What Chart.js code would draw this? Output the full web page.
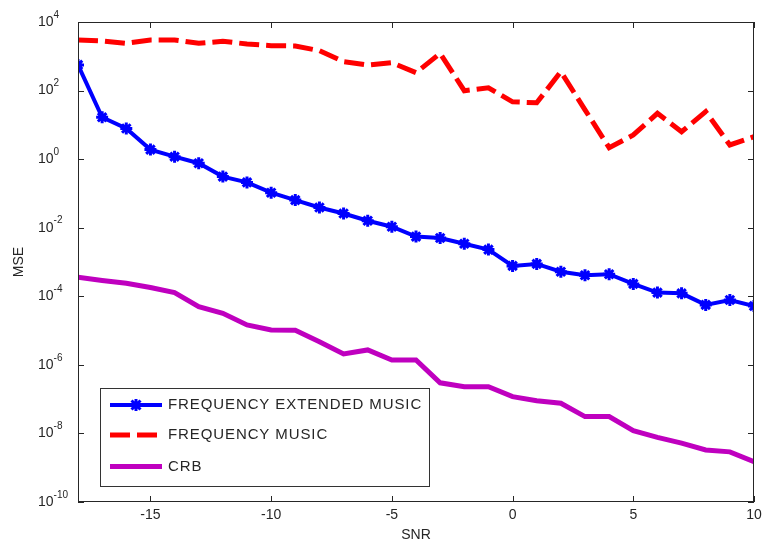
<!DOCTYPE html>
<html>
<head>
<meta charset="utf-8">
<script src="https://cdn.jsdelivr.net/npm/chart.js@4"></script>
<style>
  body { margin: 0; background: #fff; }
  canvas { display: block; }
</style>
</head>
<body>
<canvas id="grafico" width="763" height="545"></canvas>
<script>
// Dados
const snr = [-18, -17, -16, -15, -14, -13, -12, -11, -10, -9, -8, -7, -6, -5, -4,
             -3, -2, -1, 0, 1, 2, 3, 4, 5, 6, 7, 8, 9, 10];

const extendedMusic = [560, 16.6, 7.8, 1.9, 1.18, 0.76, 0.31, 0.21, 0.105, 0.064,
                       0.039, 0.026, 0.016, 0.0107, 0.0055, 0.0050, 0.0034, 0.0023,
                       7.7e-4, 8.8e-4, 5.2e-4, 4.1e-4, 4.4e-4, 2.3e-4, 1.28e-4,
                       1.22e-4, 5.6e-5, 7.8e-5, 5.2e-5];

const freqMusic = [2990, 2790, 2390, 2990, 2990, 2390, 2740, 2280, 2040, 2000,
                   1460, 695, 557, 650, 332, 1220, 99, 121, 47, 44, 356, 27.5,
                   2.16, 5.07, 21.7, 6.3, 24.2, 2.59, 4.52];

const crb = [3.6e-4, 2.9e-4, 2.4e-4, 1.8e-4, 1.28e-4, 5.0e-5, 3.2e-5, 1.46e-5,
             1.04e-5, 1.02e-5, 4.75e-6, 2.08e-6, 2.72e-6, 1.39e-6, 1.39e-6, 3.0e-7,
             2.3e-7, 2.3e-7, 1.18e-7, 9.0e-8, 7.6e-8, 3.1e-8, 3.1e-8, 1.2e-8,
             7.7e-9, 5.2e-9, 3.3e-9, 2.9e-9, 1.5e-9];

const xTicks = [-15, -10, -5, 0, 5, 10];
const yTickExps = [4, 2, 0, -2, -4, -6, -8, -10];

const corTexto = '#262626';
const fonte = '"Liberation Sans", Arial, sans-serif';

function pontos(valores) {
    return snr.map((x, i) => ({ x: x, y: valores[i] }));
}

// Desenha a estrela (marcador "*") no estilo do MATLAB
function desenharEstrela(ctx, x, y, r) {
    ctx.beginPath();
    ctx.moveTo(x - r, y); ctx.lineTo(x + r, y);
    ctx.moveTo(x, y - r); ctx.lineTo(x, y + r);
    const d = r * 0.75;
    ctx.moveTo(x - d, y - d); ctx.lineTo(x + d, y + d);
    ctx.moveTo(x - d, y + d); ctx.lineTo(x + d, y - d);
    ctx.stroke();
}

// Plugin para eixos, ticks internos, rótulos e legenda
const eixosMatlab = {
    id: 'eixosMatlab',
    afterDatasetsDraw(chart) {
        const ctx = chart.ctx;
        const area = chart.chartArea;
        const sx = chart.scales.x;
        const sy = chart.scales.y;
        const tam = 6;

        ctx.save();
        ctx.strokeStyle = corTexto;
        ctx.lineWidth = 1;
        ctx.strokeRect(area.left + 0.5, area.top + 0.5,
                       area.right - area.left - 1, area.bottom - area.top - 1);

        ctx.beginPath();
        xTicks.forEach(v => {
            const px = Math.round(sx.getPixelForValue(v)) + 0.5;
            ctx.moveTo(px, area.bottom); ctx.lineTo(px, area.bottom - tam);
            ctx.moveTo(px, area.top); ctx.lineTo(px, area.top + tam);
        });
        yTickExps.forEach(e => {
            const py = Math.round(sy.getPixelForValue(Math.pow(10, e))) + 0.5;
            ctx.moveTo(area.left, py); ctx.lineTo(area.left + tam, py);
            ctx.moveTo(area.right, py); ctx.lineTo(area.right - tam, py);
        });
        ctx.stroke();

        // Rótulos do eixo x
        ctx.fillStyle = corTexto;
        ctx.font = '14px ' + fonte;
        ctx.textAlign = 'center';
        ctx.textBaseline = 'middle';
        xTicks.forEach(v => {
            ctx.fillText(String(v), sx.getPixelForValue(v), area.bottom + 13);
        });

        // Rótulos do eixo y (10 com expoente)
        yTickExps.forEach(e => {
            const py = sy.getPixelForValue(Math.pow(10, e));
            ctx.textAlign = 'left';
            ctx.font = '14px ' + fonte;
            ctx.fillText('10', 38, py);
            const w = ctx.measureText('10').width;
            ctx.font = '10px ' + fonte;
            ctx.fillText(String(e), 38 + w, py - 7);
        });

        // Títulos dos eixos
        ctx.font = '14px ' + fonte;
        ctx.textAlign = 'center';
        ctx.fillText('SNR', (area.left + area.right) / 2, 535);
        ctx.save();
        ctx.translate(19, (area.top + area.bottom) / 2);
        ctx.rotate(-Math.PI / 2);
        ctx.fillText('MSE', 0, 0);
        ctx.restore();

        // Legenda
        const lx = 100, ly = 388, lw = 329, lh = 98;
        ctx.fillStyle = '#fff';
        ctx.fillRect(lx, ly, lw, lh);
        ctx.strokeStyle = '#333';
        ctx.strokeRect(lx + 0.5, ly + 0.5, lw, lh);

        const linhasY = [405, 435, 466.5];
        chart.data.datasets.forEach((ds, i) => {
            const y = linhasY[i];
            ctx.save();
            ctx.strokeStyle = ds.borderColor;
            ctx.lineWidth = ds.borderWidth;
            ctx.lineCap = 'butt';
            ctx.setLineDash(ds.borderDash || []);
            ctx.beginPath();
            ctx.moveTo(110, y); ctx.lineTo(162, y);
            ctx.stroke();
            ctx.setLineDash([]);
            if (ds.pointRadius > 0) {
                ctx.lineWidth = 3;
                desenharEstrela(ctx, 136, y, 6);
            }
            ctx.restore();

            ctx.fillStyle = corTexto;
            ctx.font = '15px ' + fonte;
            ctx.textAlign = 'left';
            ctx.letterSpacing = '0.9px';
            ctx.fillText(ds.label, 168, y);
            ctx.letterSpacing = '0px';
        });
        ctx.restore();
    }
};

const ctxGrafico = document.getElementById('grafico').getContext('2d');
new Chart(ctxGrafico, {
    type: 'line',
    data: {
        datasets: [{
            label: 'FREQUENCY EXTENDED MUSIC',
            data: pontos(extendedMusic),
            borderColor: '#0000ff',
            backgroundColor: '#0000ff',
            borderWidth: 4,
            pointStyle: 'star',
            pointRadius: 6,
            pointBorderWidth: 3,
            pointBorderColor: '#0000ff',
            tension: 0
        }, {
            label: 'FREQUENCY MUSIC',
            data: pontos(freqMusic),
            borderColor: '#ff0000',
            borderWidth: 5,
            borderDash: [20, 7],
            borderCapStyle: 'butt',
            pointRadius: 0,
            tension: 0
        }, {
            label: 'CRB',
            data: pontos(crb),
            borderColor: '#bf00bf',
            borderWidth: 5,
            pointRadius: 0,
            tension: 0
        }]
    },
    options: {
        responsive: false,
        animation: false,
        layout: { padding: { left: 78, right: 6, top: 22, bottom: 43 } },
        plugins: {
            legend: { display: false },
            tooltip: { enabled: false }
        },
        scales: {
            x: { type: 'linear', min: -18, max: 10, display: false },
            y: { type: 'logarithmic', min: 1e-10, max: 1e4, display: false }
        }
    },
    plugins: [eixosMatlab]
});
</script>
</body>
</html>
